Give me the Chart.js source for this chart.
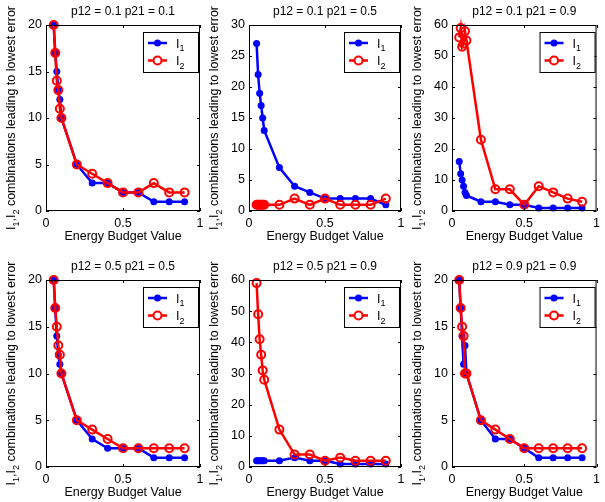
<!DOCTYPE html>
<html>
<head>
<meta charset="utf-8">
<script src="https://cdn.jsdelivr.net/npm/chart.js@4.4.1/dist/chart.umd.min.js"></script>
<style>
  html, body { margin: 0; padding: 0; background: #fff; }
  #wrap { position: relative; width: 605px; height: 502px; }
  #wrap canvas { position: absolute; left: 0; top: 0; }
</style>
</head>
<body>
<div id="wrap">
  <canvas id="c0" width="605" height="502"></canvas>
  <canvas id="c1" width="605" height="502"></canvas>
  <canvas id="c2" width="605" height="502"></canvas>
  <canvas id="c3" width="605" height="502"></canvas>
  <canvas id="c4" width="605" height="502"></canvas>
  <canvas id="c5" width="605" height="502"></canvas>
</div>
<script>
// energy budget values (x axis, same for every subplot)
const budget = [0.05, 0.06, 0.07, 0.08, 0.09, 0.1, 0.2, 0.3, 0.4, 0.5, 0.6, 0.7, 0.8, 0.9];

const titles = [
  'p12 = 0.1 p21 = 0.1', 'p12 = 0.1 p21 = 0.5', 'p12 = 0.1 p21 = 0.9',
  'p12 = 0.5 p21 = 0.5', 'p12 = 0.5 p21 = 0.9', 'p12 = 0.9 p21 = 0.9'
];
const yMax  = [20, 30, 60, 20, 60, 20];
const yStep = [5, 5, 10, 5, 10, 5];
const xTicks = [0, 0.5, 1];

// number of I1 / I2 combinations leading to the lowest error
const i1_11 = [20, 17, 15, 13, 12, 10, 5, 3, 3, 2, 2, 1, 1, 1];
const i2_11 = [20, 17, 14, 13, 11, 10, 5, 4, 3, 2, 2, 3, 2, 2];
const i1_15 = [27, 22, 19, 17, 15, 13, 7, 4, 3, 2, 2, 2, 2, 1];
const i2_15 = [1, 1, 1, 1, 1, 1, 1, 2, 1, 2, 1, 1, 1, 2];
const i1_19 = [16, 12, 10, 8, 6, 5, 3, 3, 2, 2, 1, 1, 1, 1];
const i2_19 = [56, 59, 53, 54, 58, 55, 23, 7, 7, 2, 8, 6, 4, 3];
const i1_55 = [20, 17, 14, 12, 11, 10, 5, 3, 2, 2, 2, 1, 1, 1];
const i2_55 = [20, 17, 15, 13, 12, 10, 5, 4, 3, 2, 2, 2, 2, 2];
const i1_59 = [2, 2, 2, 2, 2, 2, 2, 3, 2, 2, 1, 1, 1, 1];
const i2_59 = [59, 49, 41, 36, 31, 28, 12, 4, 4, 2, 3, 2, 2, 2];
const i1_99 = [20, 17, 14, 11, 13, 10, 5, 3, 3, 2, 1, 1, 1, 1];
const i2_99 = [20, 17, 15, 14, 10, 10, 5, 4, 3, 2, 2, 2, 2, 2];

const seriesI1 = [i1_11, i1_15, i1_19, i1_55, i1_59, i1_99];
const seriesI2 = [i2_11, i2_15, i2_19, i2_55, i2_59, i2_99];

// plot box of each subplot in page pixels
const colLeft  = [46, 249, 452];
const colRight = [200, 401, 600];
const rowTop    = [25, 280];
const rowBottom = [211, 467];

const FONT = '"Liberation Sans", Arial, Helvetica, sans-serif';
const BLUE = '#0000ff';
const RED = '#ff0000';
const Y_AXIS_W = 40;
const X_AXIS_H = 22;

// text with optional subscript pieces, drawn on the current baseline
function richWidth(ctx, parts) {
  let w = 0;
  for (const p of parts) {
    ctx.font = p.sub ? '9px ' + FONT : '12.5px ' + FONT;
    w += ctx.measureText(p.t).width;
  }
  return w;
}
function drawRich(ctx, parts, x, y) {
  let cx = x;
  for (const p of parts) {
    ctx.font = p.sub ? '9px ' + FONT : '12.5px ' + FONT;
    ctx.fillText(p.t, cx, p.sub ? y + 3.5 : y);
    cx += ctx.measureText(p.t).width;
  }
}

const yLabelParts = [
  {t: 'I'}, {t: '1', sub: true}, {t: ','}, {t: 'I'}, {t: '2', sub: true},
  {t: ' combinations leading to lowest error'}
];

// box, inward ticks, title, axis labels and legend
const panelDecor = {
  id: 'panelDecor',
  afterDraw(chart, args, opts) {
    const ctx = chart.ctx;
    const a = chart.chartArea;
    const sx = chart.scales.x, sy = chart.scales.y;
    ctx.save();
    ctx.strokeStyle = '#000';
    ctx.lineWidth = 1;
    ctx.strokeRect(a.left + 0.5, a.top + 0.5, a.right - a.left - 1, a.bottom - a.top - 1);

    ctx.beginPath();
    sx.ticks.forEach(t => {
      const px = Math.round(sx.getPixelForValue(t.value)) + 0.5;
      ctx.moveTo(px, a.bottom); ctx.lineTo(px, a.bottom - 3);
      ctx.moveTo(px, a.top); ctx.lineTo(px, a.top + 3);
    });
    sy.ticks.forEach(t => {
      const py = Math.round(sy.getPixelForValue(t.value)) + 0.5;
      ctx.moveTo(a.left, py); ctx.lineTo(a.left + 3, py);
      ctx.moveTo(a.right, py); ctx.lineTo(a.right - 3, py);
    });
    ctx.stroke();

    const midX = (a.left + a.right) / 2;
    const midY = (a.top + a.bottom) / 2;
    ctx.fillStyle = '#000';
    ctx.textAlign = 'center';
    ctx.textBaseline = 'middle';
    ctx.font = '12px ' + FONT;
    ctx.fillText(opts.title, midX, a.top - 13);
    ctx.font = '12.5px ' + FONT;
    ctx.fillText('Energy Budget Value', midX, a.bottom + 26);

    // rotated y label
    ctx.save();
    ctx.translate(a.left - 31, midY);
    ctx.rotate(-Math.PI / 2);
    ctx.textAlign = 'left';
    ctx.textBaseline = 'alphabetic';
    drawRich(ctx, yLabelParts, -richWidth(ctx, yLabelParts) / 2, 0);
    ctx.restore();

    // legend box
    const lx = a.right - 57, ly = a.top + 7, lw = 55, lh = 40;
    ctx.fillStyle = '#fff';
    ctx.fillRect(lx, ly, lw, lh);
    ctx.strokeRect(lx + 0.5, ly + 0.5, lw, lh);
    const rows = [
      {c: BLUE, filled: true, parts: [{t: 'I'}, {t: '1', sub: true}]},
      {c: RED, filled: false, parts: [{t: 'I'}, {t: '2', sub: true}]}
    ];
    rows.forEach((r, i) => {
      const ry = ly + 11 + i * 17.5;
      ctx.strokeStyle = r.c;
      ctx.lineWidth = 2.5;
      ctx.beginPath();
      ctx.moveTo(lx + 5, ry); ctx.lineTo(lx + 24, ry);
      ctx.stroke();
      ctx.beginPath();
      if (r.filled) {
        ctx.fillStyle = r.c;
        ctx.arc(lx + 14.5, ry, 3.5, 0, Math.PI * 2);
        ctx.fill();
      } else {
        ctx.lineWidth = 2;
        ctx.arc(lx + 14.5, ry, 4, 0, Math.PI * 2);
        ctx.fillStyle = '#fff';
        ctx.fill();
        ctx.stroke();
      }
      ctx.fillStyle = '#000';
      ctx.textAlign = 'left';
      ctx.textBaseline = 'alphabetic';
      drawRich(ctx, r.parts, lx + 33, ry + 4.5);
    });
    ctx.restore();
  }
};

function makePanel(i) {
  const col = i % 3, row = Math.floor(i / 3);
  const L = colLeft[col], R = colRight[col], T = rowTop[row], B = rowBottom[row];
  const yTicks = [];
  for (let v = 0; v <= yMax[i]; v += yStep[i]) yTicks.push(v);

  return new Chart(document.getElementById('c' + i), {
    type: 'line',
    data: {
      datasets: [
        {
          label: 'I1',
          data: budget.map((x, k) => ({x: x, y: seriesI1[i][k]})),
          borderColor: BLUE,
          backgroundColor: BLUE,
          borderWidth: 2.5,
          pointRadius: 3.5,
          pointBorderWidth: 0,
          pointBackgroundColor: BLUE,
          order: 1,
          clip: false
        },
        {
          label: 'I2',
          data: budget.map((x, k) => ({x: x, y: seriesI2[i][k]})),
          borderColor: RED,
          backgroundColor: RED,
          borderWidth: 2.5,
          pointRadius: 4,
          pointBorderWidth: 2,
          pointBackgroundColor: 'rgba(255,255,255,0)',
          order: 0,
          clip: false
        }
      ]
    },
    options: {
      responsive: false,
      animation: false,
      events: [],
      layout: {
        padding: {left: L - Y_AXIS_W, right: 605 - R, top: T, bottom: 502 - B - X_AXIS_H}
      },
      plugins: {
        legend: {display: false},
        tooltip: {enabled: false},
        panelDecor: {title: titles[i]}
      },
      scales: {
        x: {
          type: 'linear',
          min: 0, max: 1,
          afterBuildTicks: s => { s.ticks = xTicks.map(v => ({value: v})); },
          afterFit: s => { s.height = X_AXIS_H; },
          grid: {display: false, drawTicks: false},
          border: {display: false},
          ticks: {
            color: '#000', padding: 5, maxRotation: 0,
            font: {family: FONT, size: 12.5},
            callback: v => String(v)
          }
        },
        y: {
          min: 0, max: yMax[i],
          afterBuildTicks: s => { s.ticks = yTicks.map(v => ({value: v})); },
          afterFit: s => { s.width = Y_AXIS_W; },
          grid: {display: false, drawTicks: false},
          border: {display: false},
          ticks: {
            color: '#000', padding: 4,
            font: {family: FONT, size: 12.5}
          }
        }
      }
    },
    plugins: [panelDecor]
  });
}

for (let i = 0; i < 6; i++) makePanel(i);
</script>
</body>
</html>
